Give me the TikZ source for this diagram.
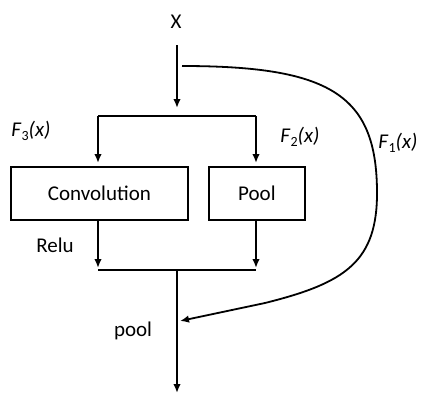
\documentclass[tikz,border=0pt]{standalone}
\usepackage{fontspec}
\setmainfont{Carlito}
\usetikzlibrary{arrows.meta}
\newcommand{\lbl}[1]{\textit{F}\raisebox{-0.35ex}{\fontsize{14}{16}\selectfont #1}\textit{(x)}}
\begin{document}
\begin{tikzpicture}[x=1pt,y=-1pt,
  line width=1.8pt,
  every node/.style={font=\fontsize{21}{25}\selectfont, inner sep=0pt},
  arr/.style={-{Latex[length=9pt,width=7.5pt]}},
  boxnode/.style={draw, line width=1.8pt, minimum height=53pt, anchor=north west}]
\useasboundingbox (0,0) rectangle (421,394);
\node (X) at (176,22) {X};
\coordinate (xtop) at (177,45);
\coordinate (xend) at (177,108);
\coordinate (cstart) at (182,66);
\coordinate (bl) at (98,116);
\coordinate (br) at (256,116);
\node[boxnode, minimum width=177pt] (conv) at (10,166) {Convolution};
\node[boxnode, minimum width=96pt] (pool) at (208,166) {Pool};
\coordinate (ml) at (98,270);
\coordinate (mr) at (256,270);
\coordinate (mc) at (177,270);
\coordinate (out) at (177,393);
\coordinate (cend) at (180,321);
\draw[arr] (xtop) -- (xend);
\draw (bl) -- (br);
\draw[arr] (bl) -- (98,163);
\draw[arr] (br) -- (256,163);
\draw[arr] (conv.south -| ml) -- (98,268);
\draw[arr] (pool.south -| mr) -- (256,268);
\draw (ml) -- (mr);
\draw[arr] (mc) -- (out);
\draw[arr] (cstart) .. controls (330,66) and (376,95) .. (377,190)
  .. controls (378,262) and (345,283) .. (265,303) -- (cend);
\node (relu) at (55,245) {Relu};
\node (pl) at (133,331) {pool};
\node (f3) at (31,131) {\lbl{3}};
\node (f2) at (300,137) {\lbl{2}};
\node (f1) at (398,143) {\lbl{1}};
\end{tikzpicture}
\end{document}
